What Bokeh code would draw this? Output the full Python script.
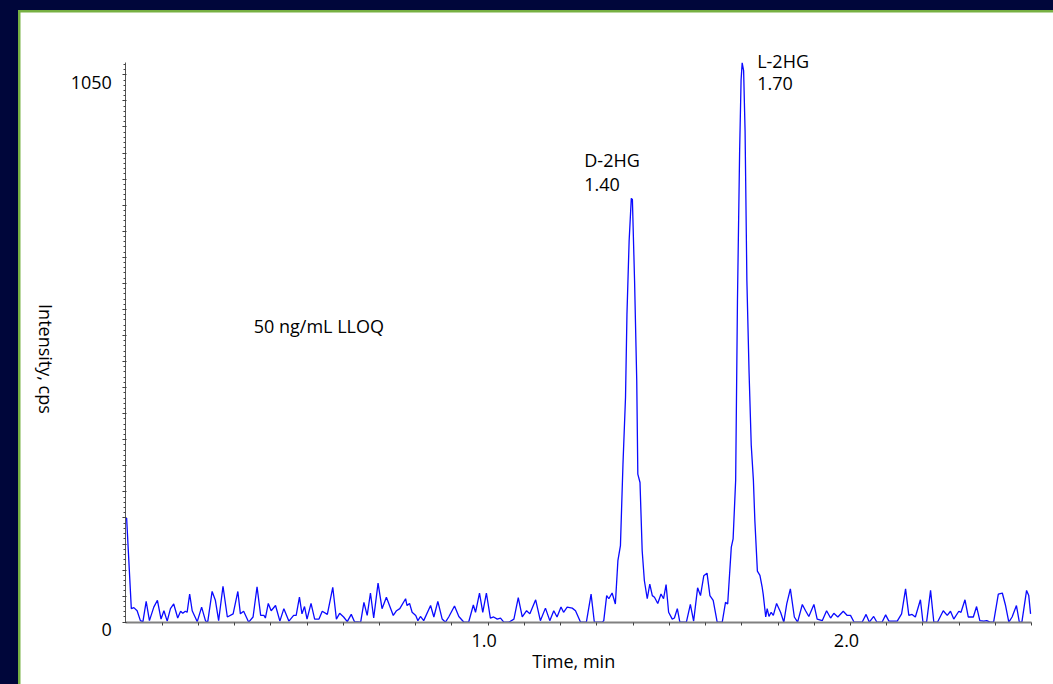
import math
from bokeh.plotting import figure
from bokeh.models import FixedTicker, Label, Range1d
from bokeh.layouts import column
from bokeh.embed import file_html
from bokeh.resources import INLINE

# ---------------- data ----------------
time_min = [
    0.002, 0.015, 0.022, 0.031, 0.040, 0.047, 0.056, 0.065, 0.077, 0.087,
    0.097, 0.105, 0.114, 0.123, 0.132, 0.143, 0.151, 0.157, 0.164, 0.169,
    0.176, 0.183, 0.197, 0.209, 0.220, 0.226, 0.238, 0.247, 0.256, 0.268,
    0.280, 0.296, 0.309, 0.316, 0.325, 0.339, 0.351, 0.362, 0.372, 0.381,
    0.385, 0.393, 0.401, 0.413, 0.425, 0.436, 0.450, 0.463, 0.470, 0.479,
    0.486, 0.493, 0.500, 0.511, 0.521, 0.533, 0.542, 0.556, 0.571, 0.581,
    0.590, 0.601, 0.611, 0.622, 0.631, 0.648, 0.657, 0.666, 0.675, 0.684,
    0.696, 0.707, 0.719, 0.738, 0.747, 0.756, 0.772, 0.776, 0.783, 0.790,
    0.800, 0.806, 0.813, 0.822, 0.841, 0.850, 0.861, 0.873, 0.882, 0.891,
    0.907, 0.919, 0.933, 0.946, 0.959, 0.965, 0.976, 0.985, 0.995, 1.006,
    1.015, 1.025, 1.034, 1.043, 1.057, 1.071, 1.083, 1.094, 1.106, 1.115,
    1.131, 1.144, 1.158, 1.170, 1.181, 1.190, 1.201, 1.208, 1.218, 1.232,
    1.241, 1.255, 1.271, 1.284, 1.293, 1.315, 1.319, 1.327, 1.333, 1.342,
    1.351, 1.358, 1.365, 1.372, 1.379, 1.383, 1.389, 1.395, 1.398, 1.404,
    1.410, 1.413, 1.419, 1.425, 1.431, 1.439, 1.446, 1.453, 1.459, 1.468,
    1.477, 1.484, 1.491, 1.498, 1.508, 1.514, 1.522, 1.529, 1.547, 1.558,
    1.567, 1.578, 1.586, 1.595, 1.604, 1.612, 1.621, 1.632, 1.646, 1.655,
    1.661, 1.671, 1.676, 1.683, 1.688, 1.694, 1.698, 1.701, 1.705, 1.709,
    1.714, 1.720, 1.726, 1.732, 1.736, 1.743, 1.750, 1.756, 1.759, 1.766,
    1.770, 1.775, 1.781, 1.787, 1.796, 1.807, 1.816, 1.824, 1.834, 1.845,
    1.854, 1.867, 1.876, 1.885, 1.899, 1.908, 1.922, 1.934, 1.945, 1.954,
    1.965, 1.980, 1.991, 2.000, 2.010, 2.032, 2.043, 2.052, 2.064, 2.073,
    2.087, 2.097, 2.106, 2.129, 2.141, 2.152, 2.161, 2.170, 2.179, 2.193,
    2.200, 2.210, 2.221, 2.230, 2.240, 2.256, 2.267, 2.276, 2.285, 2.299,
    2.305, 2.316, 2.325, 2.332, 2.339, 2.348, 2.357, 2.368, 2.376, 2.385,
    2.395, 2.408, 2.419, 2.428, 2.437, 2.446, 2.458, 2.466, 2.473, 2.486,
    2.492, 2.497,
]
intensity_cps = [
    200, 26, 28, 22, 3, 1, 40, 3, 29, 42,
    6, 22, 2, 26, 35, 8, 21, 17, 21, 19,
    54, 22, 1, 29, 2, 1, 59, 42, 3, 69,
    10, 16, 59, 16, 21, 0, 10, 68, 13, 13,
    8, 36, 22, 32, 2, 26, 2, 13, 13, 48,
    16, 30, 6, 36, 6, 6, 21, 15, 67, 6,
    17, 10, 1, 15, 1, 0, 38, 13, 56, 8,
    75, 26, 48, 13, 22, 26, 45, 32, 36, 19,
    13, 3, 11, 3, 32, 10, 40, 6, 0, 10,
    31, 11, 0, 0, 33, 19, 56, 19, 56, 8,
    10, 6, 8, 0, 0, 6, 47, 10, 22, 16,
    43, 3, 27, 3, 22, 10, 29, 19, 29, 27,
    22, 0, 0, 54, 0, 0, 3, 51, 45, 56,
    35, 118, 147, 303, 431, 591, 732, 813, 811, 655,
    463, 284, 268, 137, 80, 45, 73, 51, 48, 36,
    54, 45, 72, 19, 6, 8, 26, 0, 0, 34,
    2, 66, 51, 89, 94, 51, 42, 0, 0, 38,
    35, 144, 160, 272, 617, 905, 1040, 1073, 1058, 943,
    655, 480, 340, 272, 195, 98, 90, 68, 54, 10,
    26, 11, 19, 13, 36, 19, 0, 35, 64, 10,
    0, 34, 22, 11, 34, 6, 3, 22, 8, 17,
    10, 21, 13, 13, 0, 0, 15, 0, 11, 0,
    0, 14, 2, 2, 16, 64, 13, 15, 10, 43,
    0, 0, 61, 0, 0, 22, 13, 21, 6, 21,
    19, 43, 10, 10, 10, 30, 3, 2, 3, 0,
    0, 54, 56, 32, 0, 10, 32, 0, 0, 61,
    51, 16,
]

x_axis_span = [0.0, 2.5]
y_axis_span = [0, 1073]
y_tick_labels = [0, 1050]
x_tick_labels = [1.0, 2.0]
peak_names = ["D-2HG", "L-2HG"]
peak_rt = ["1.40", "1.70"]
note_text = "50 ng/mL LLOQ"
x_title = "Time, min"
y_title = "Intensity, cps"

# ---------------- styles ----------------
FONT = "Open Sans"
FS = "18px"
NAVY = "#00063a"
GREEN = "#77b043"
LINE_BLUE = "#0a0aff"
TXT = "#000000"

# the plotting frame covers the whole white panel; axes sit at fixed locations inside it
p = figure(
    width=1033, height=672, output_backend="svg", toolbar_location=None,
    x_range=Range1d(-0.2909, 2.5603), y_range=Range1d(-119.5, 1169.6),
    min_border=0, min_border_left=0, min_border_right=0, min_border_top=0, min_border_bottom=0,
    background_fill_color="white", border_fill_color="white", outline_line_color=None,
)
p.xgrid.visible = False
p.ygrid.visible = False

p.line(time_min, intensity_cps, line_color=LINE_BLUE, line_width=1.3)

# x axis
xa = p.xaxis[0]
xa.fixed_location = 0
xa.bounds = tuple(x_axis_span)
xa.ticker = FixedTicker(ticks=[round(0.1 * k, 1) for k in range(1, 26)], minor_ticks=[])
xa.major_label_text_color = None
xa.major_label_text_font_size = "1px"
xa.axis_line_color = "#808080"
xa.axis_line_width = 2
xa.major_tick_line_color = "#404040"
xa.major_tick_out = 3
xa.major_tick_in = 0

# y axis
ya = p.yaxis[0]
ya.fixed_location = 0
ya.bounds = tuple(y_axis_span)
ya.ticker = FixedTicker(ticks=list(range(0, 1051, 50)), minor_ticks=list(range(0, 1071, 10)))
ya.major_label_text_color = None
ya.major_label_text_font_size = "1px"
ya.axis_line_color = "#555555"
ya.axis_line_width = 1
ya.major_tick_line_color = "#333333"
ya.major_tick_out = 3
ya.major_tick_in = 1
ya.minor_tick_line_color = "#444444"
ya.minor_tick_out = 2
ya.minor_tick_in = 0


def lab(**kw):
    base = dict(text_font=FONT, text_font_size=FS, text_color=TXT)
    base.update(kw)
    p.add_layout(Label(**base))


for v in y_tick_labels:
    lab(x=0, y=v, text=str(v), x_offset=-14, y_offset=-7.5,
        text_align="right", text_baseline="middle")

for v in x_tick_labels:
    lab(x=v, y=0, text=f"{v:.1f}", x_offset=-4, y_offset=-18,
        text_align="center", text_baseline="middle")

lab(x=sum(x_axis_span) / 2, y=0, text=x_title, x_offset=-5, y_offset=-39,
    text_align="center", text_baseline="middle")
lab(x=0, y=505, text=y_title, x_offset=-80, angle=-math.pi / 2,
    text_align="center", text_baseline="middle")
lab(x=0.353, y=568, text=note_text, text_align="left", text_baseline="middle")

# peak annotations anchored to the apex of each peak
name_offsets = [(-47, 38), (15, 2)]
rt_offsets = [(-47, 14), (15, -21)]
for name, rt, no, ro in zip(peak_names, peak_rt, name_offsets, rt_offsets):
    r = float(rt)
    idx = max((i for i, t in enumerate(time_min) if abs(t - r) < 0.03),
              key=lambda i: intensity_cps[i])
    tx, ty = time_min[idx], intensity_cps[idx]
    lab(x=tx, y=ty, text=name, x_offset=no[0], y_offset=no[1],
        text_align="left", text_baseline="middle")
    lab(x=tx, y=ty, text=rt, x_offset=ro[0], y_offset=ro[1],
        text_align="left", text_baseline="middle")

inner = column(p, styles={"background-color": GREEN, "padding": "2px 0px 0px 2px"})
root = column(inner, styles={"background-color": NAVY, "padding": "10px 0px 0px 18px"})

open("out.html", "w").write(file_html(root, INLINE))
